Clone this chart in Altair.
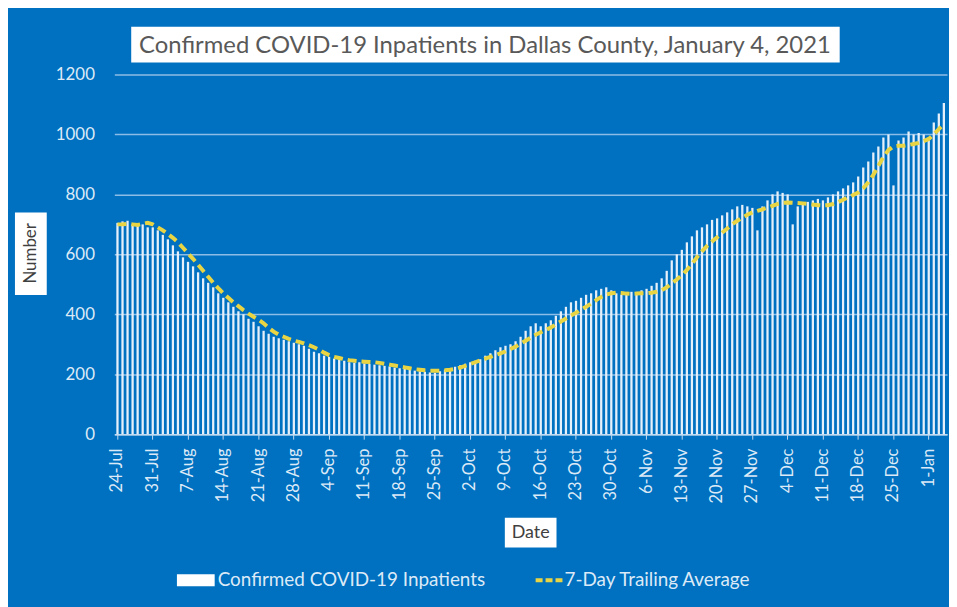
import altair as alt
import pandas as pd
import datetime as dt

# ---- data -------------------------------------------------------------
start = dt.date(2020, 7, 24)
n_days = 165
date_labels = [f"{(start + dt.timedelta(days=i)).day}-{(start + dt.timedelta(days=i)).strftime('%b')}"
               for i in range(n_days)]

inpatients = [
    705, 710, 712, 700, 695, 700, 690,
    690, 680, 665, 650, 630, 610, 590,
    575, 560, 540, 520, 505, 490, 470,
    455, 440, 425, 410, 400, 385, 375,
    360, 345, 335, 325, 320, 315, 310,
    305, 300, 295, 285, 275, 270, 262,
    258, 252, 248, 245, 240, 238, 240,
    236, 234, 232, 230, 228, 226, 222,
    220, 218, 215, 212, 210, 208, 206,
    205, 210, 215, 220, 225, 230, 235,
    240, 245, 250, 262, 270, 280, 290,
    295, 300, 310, 325, 345, 360, 370,
    360, 370, 380, 395, 410, 425, 440,
    445, 455, 465, 470, 480, 485, 490,
    480, 470, 465, 470, 475, 470, 480,
    485, 495, 505, 520, 545, 580, 600,
    615, 640, 660, 680, 690, 700, 715,
    720, 730, 740, 750, 760, 765, 760,
    755, 680, 760, 780, 800, 810, 805,
    800, 700, 760, 770, 775, 780, 785,
    780, 790, 800, 810, 820, 830, 840,
    860, 890, 910, 940, 960, 990, 1000,
    830, 980, 990, 1010, 1000, 1005, 1000,
    990, 1040, 1070, 1105,
]

avg7 = [
    700, 700, 702, 700, 698, 702, 705,
    700, 690, 680, 668, 655, 640, 622,
    603, 585, 565, 545, 525, 505, 487,
    470, 455, 440, 427, 414, 402, 392,
    382, 370, 355, 342, 332, 325, 318,
    312, 308, 303, 297, 290, 282, 272,
    264, 258, 254, 250, 247, 245, 243,
    242, 241, 240, 238, 235, 232, 229,
    226, 223, 220, 217, 215, 213, 212,
    212, 212, 213, 215, 218, 222, 228,
    234, 240, 246, 252, 258, 264, 270,
    276, 284, 292, 302, 312, 322, 332,
    340, 348, 356, 366, 376, 386, 396,
    405, 415, 425, 436, 447, 458, 466,
    470, 472, 471, 469, 468, 469, 470,
    470, 472, 475, 480, 490, 503, 516,
    530, 548, 568, 590, 610, 628, 643,
    657, 672, 686, 700, 712, 722, 732,
    740, 745, 750, 756, 762, 768, 772,
    773, 772, 771, 770, 768, 766, 764,
    763, 764, 768, 774, 782, 790, 798,
    806, 820, 840, 865, 895, 925, 948,
    960, 962, 962, 965, 968, 972, 978,
    985, 1000, 1018, 1035,
]

tick_labels = date_labels[::7]
y_ticks = [0, 200, 400, 600, 800, 1000, 1200]

title_text = "Confirmed COVID-19 Inpatients in Dallas County, January 4, 2021"
legend_bar = "Confirmed COVID-19 Inpatients"
legend_line = "7-Day Trailing Average"

df = pd.DataFrame({"date": date_labels, "inpatients": inpatients, "avg": avg7})

# ---- styles -----------------------------------------------------------
BG = "#0070C0"
FONT = "Lato"
YELLOW = "#E9D544"
BAR = "#E6F0FA"
LABEL = "#DCEAF7"

x_enc = alt.X(
    "date:O", sort=None, title=None,
    scale=alt.Scale(paddingInner=0.55, paddingOuter=0.4),
    axis=alt.Axis(values=tick_labels, labelAngle=270, labelAlign="right",
                  labelBaseline="middle", labelColor=LABEL, labelFontSize=16.5,
                  labelFont=FONT, labelPadding=9, tickColor="#BFD9F0",
                  tickSize=5, domainColor="#BFD9F0", domainWidth=1.5,
                  grid=False),
)

y_enc = alt.Y(
    "inpatients:Q", title=None,
    scale=alt.Scale(domain=[0, 1200]),
    axis=alt.Axis(values=y_ticks, format="d", labelColor=LABEL, labelFontSize=17,
                  labelFont=FONT, labelPadding=20, ticks=False, domain=False,
                  grid=True, gridColor="#8CBDE6", gridWidth=1.5),
)

base = alt.Chart(df)

bars = base.mark_bar(color=BAR).encode(x=x_enc, y=y_enc)

line = base.mark_line(color=YELLOW, strokeWidth=4, strokeDash=[9, 5]).encode(
    x=alt.X("date:O", sort=None),
    y=alt.Y("avg:Q"),
)

one = alt.Data(values=[{"k": 1}])

title_box = alt.Chart(one).mark_rect(color="white").encode(
    x=alt.value(17), x2=alt.value(730), y=alt.value(-48), y2=alt.value(-12))
title_txt = alt.Chart(one).mark_text(
    text=title_text, font=FONT, fontSize=24, color="#595959",
    align="center", baseline="middle").encode(x=alt.value(373), y=alt.value(-29))

ytitle_box = alt.Chart(one).mark_rect(color="white").encode(
    x=alt.value(-100), x2=alt.value(-68), y=alt.value(139), y2=alt.value(222))
ytitle_txt = alt.Chart(one).mark_text(
    text="Number", font=FONT, fontSize=17, color="#404040", angle=270,
    align="center", baseline="middle").encode(x=alt.value(-84), y=alt.value(180))

xtitle_box = alt.Chart(one).mark_rect(color="white").encode(
    x=alt.value(393), x2=alt.value(445), y=alt.value(446), y2=alt.value(476))
xtitle_txt = alt.Chart(one).mark_text(
    text="Date", font=FONT, fontSize=18, color="#404040",
    align="center", baseline="middle").encode(x=alt.value(419), y=alt.value(461))

leg_box = alt.Chart(one).mark_rect(color="white").encode(
    x=alt.value(63), x2=alt.value(101), y=alt.value(503), y2=alt.value(515))
leg_txt1 = alt.Chart(one).mark_text(
    text=legend_bar, font=FONT, fontSize=19, color=LABEL,
    align="left", baseline="middle").encode(x=alt.value(104), y=alt.value(509))
leg_rule = alt.Chart(one).mark_rule(color=YELLOW, strokeWidth=4, strokeDash=[7, 3]).encode(
    x=alt.value(424), x2=alt.value(451), y=alt.value(509))
leg_txt2 = alt.Chart(one).mark_text(
    text=legend_line, font=FONT, fontSize=19, color=LABEL,
    align="left", baseline="middle").encode(x=alt.value(453), y=alt.value(509))

chart = alt.layer(
    bars, line, title_box, title_txt, ytitle_box, ytitle_txt,
    xtitle_box, xtitle_txt, leg_box, leg_txt1, leg_rule, leg_txt2,
).properties(
    width=838, height=362,
    autosize=alt.AutoSizeParams(type="none"),
    padding={"left": 107, "top": 65, "right": 2, "bottom": 172},
    background=BG,
).configure_view(stroke=None)

chart.save("out.html", embed_options={"renderer": "svg", "actions": False})
